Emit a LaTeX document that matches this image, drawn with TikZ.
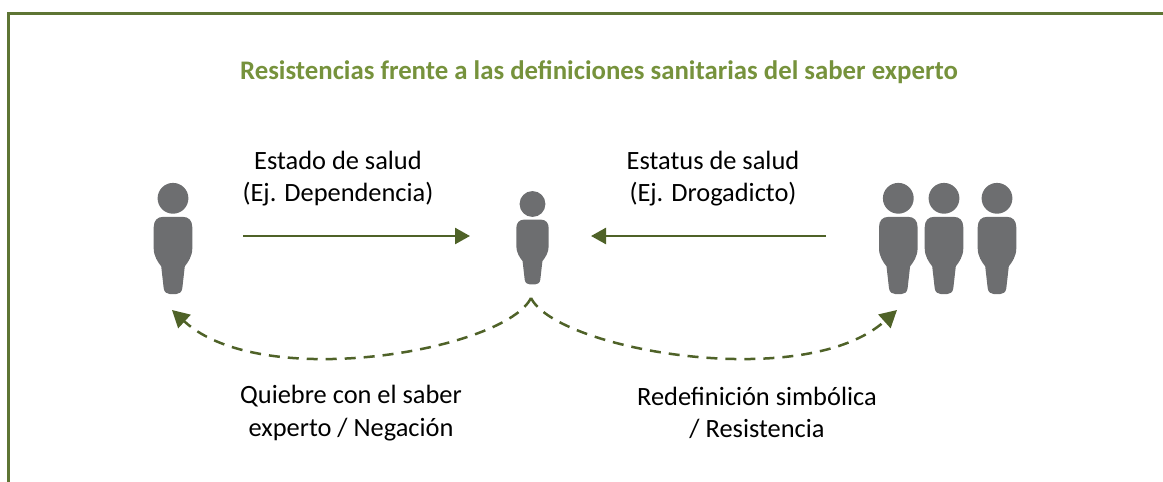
\documentclass[tikz,border=0pt]{standalone}
\usepackage{fontspec}
\setmainfont{Carlito}
\usetikzlibrary{arrows.meta}
\definecolor{framegreen}{HTML}{5E7534}
\definecolor{titlegreen}{HTML}{76923C}
\definecolor{linegreen}{HTML}{4F6228}
\definecolor{persongrey}{HTML}{6D6E70}
\tikzset{
  x=1pt,y=-1pt,
  frameline/.style={draw=framegreen,line width=3pt},
  titletext/.style={font=\fontsize{26.8}{32}\selectfont\bfseries,text=titlegreen,inner sep=0pt},
  labeltext/.style={font=\fontsize{26.4}{32.5}\selectfont,text=black,align=center,inner sep=0pt},
  solidarrow/.style={draw=linegreen,line width=2.5pt,-{Triangle[length=15pt,width=16pt]}},
  dashedarrow/.style={draw=linegreen,line width=2.5pt,dash pattern=on 11pt off 8pt,-{Triangle[length=17pt,width=18pt]}},
  person/.pic={
    \fill[persongrey] (0,0) circle[radius=15.4];
    \fill[persongrey] (-10,18.6)
      .. controls (-15.5,18.6) and (-19.3,22) .. (-19.3,29)
      -- (-19.3,50)
      .. controls (-19.3,58) and (-15,64) .. (-11.8,68)
      -- (-9.3,90)
      .. controls (-8.8,94) and (-6,95.8) .. (-3,95.8)
      -- (3,95.8)
      .. controls (6,95.8) and (8.8,94) .. (9.3,90)
      -- (11.8,68)
      .. controls (15,64) and (19.3,58) .. (19.3,50)
      -- (19.3,29)
      .. controls (19.3,22) and (15.5,18.6) .. (10,18.6) -- cycle;
  }
}
\begin{document}
\begin{tikzpicture}
\useasboundingbox (0,0) rectangle (1163,482);
\draw[frameline] (8.5,482) -- (8.5,13.5) -- (1163,13.5);
\node[titletext] (title) at (599,72.5) {Resistencias frente a las definiciones sanitarias del saber experto};
\pic at (173,198.3) {person};
\pic[scale=.84] at (532.5,204) {person};
\pic at (898.3,198.3) {person};
\pic at (944,198.3) {person};
\pic at (997,198.3) {person};
\node[labeltext] (estado) at (338,178.5) {Estado de salud\\(Ej. Dependencia)};
\node[labeltext] (estatus) at (713,178.5) {Estatus de salud\\(Ej. Drogadicto)};
\node[labeltext] (quiebre) at (351,413) {Quiebre con el saber\\experto / Negación};
\node[labeltext] (redef) at (757,413) {Redefinición simbólica\\/ Resistencia};
\coordinate (a1) at (243,236);
\coordinate (a2) at (470,236);
\coordinate (b1) at (826,236);
\coordinate (b2) at (591,236);
\coordinate (c) at (531,298);
\coordinate (cl) at (172,310);
\coordinate (cr) at (897,310);
\draw[solidarrow] (a1) -- (a2);
\draw[solidarrow] (b1) -- (b2);
\draw[dashedarrow] (c) .. controls (505,350) and (262,393) .. (cl);
\draw[dashedarrow] (c) .. controls (557,350) and (805,393) .. (cr);
\end{tikzpicture}
\end{document}
